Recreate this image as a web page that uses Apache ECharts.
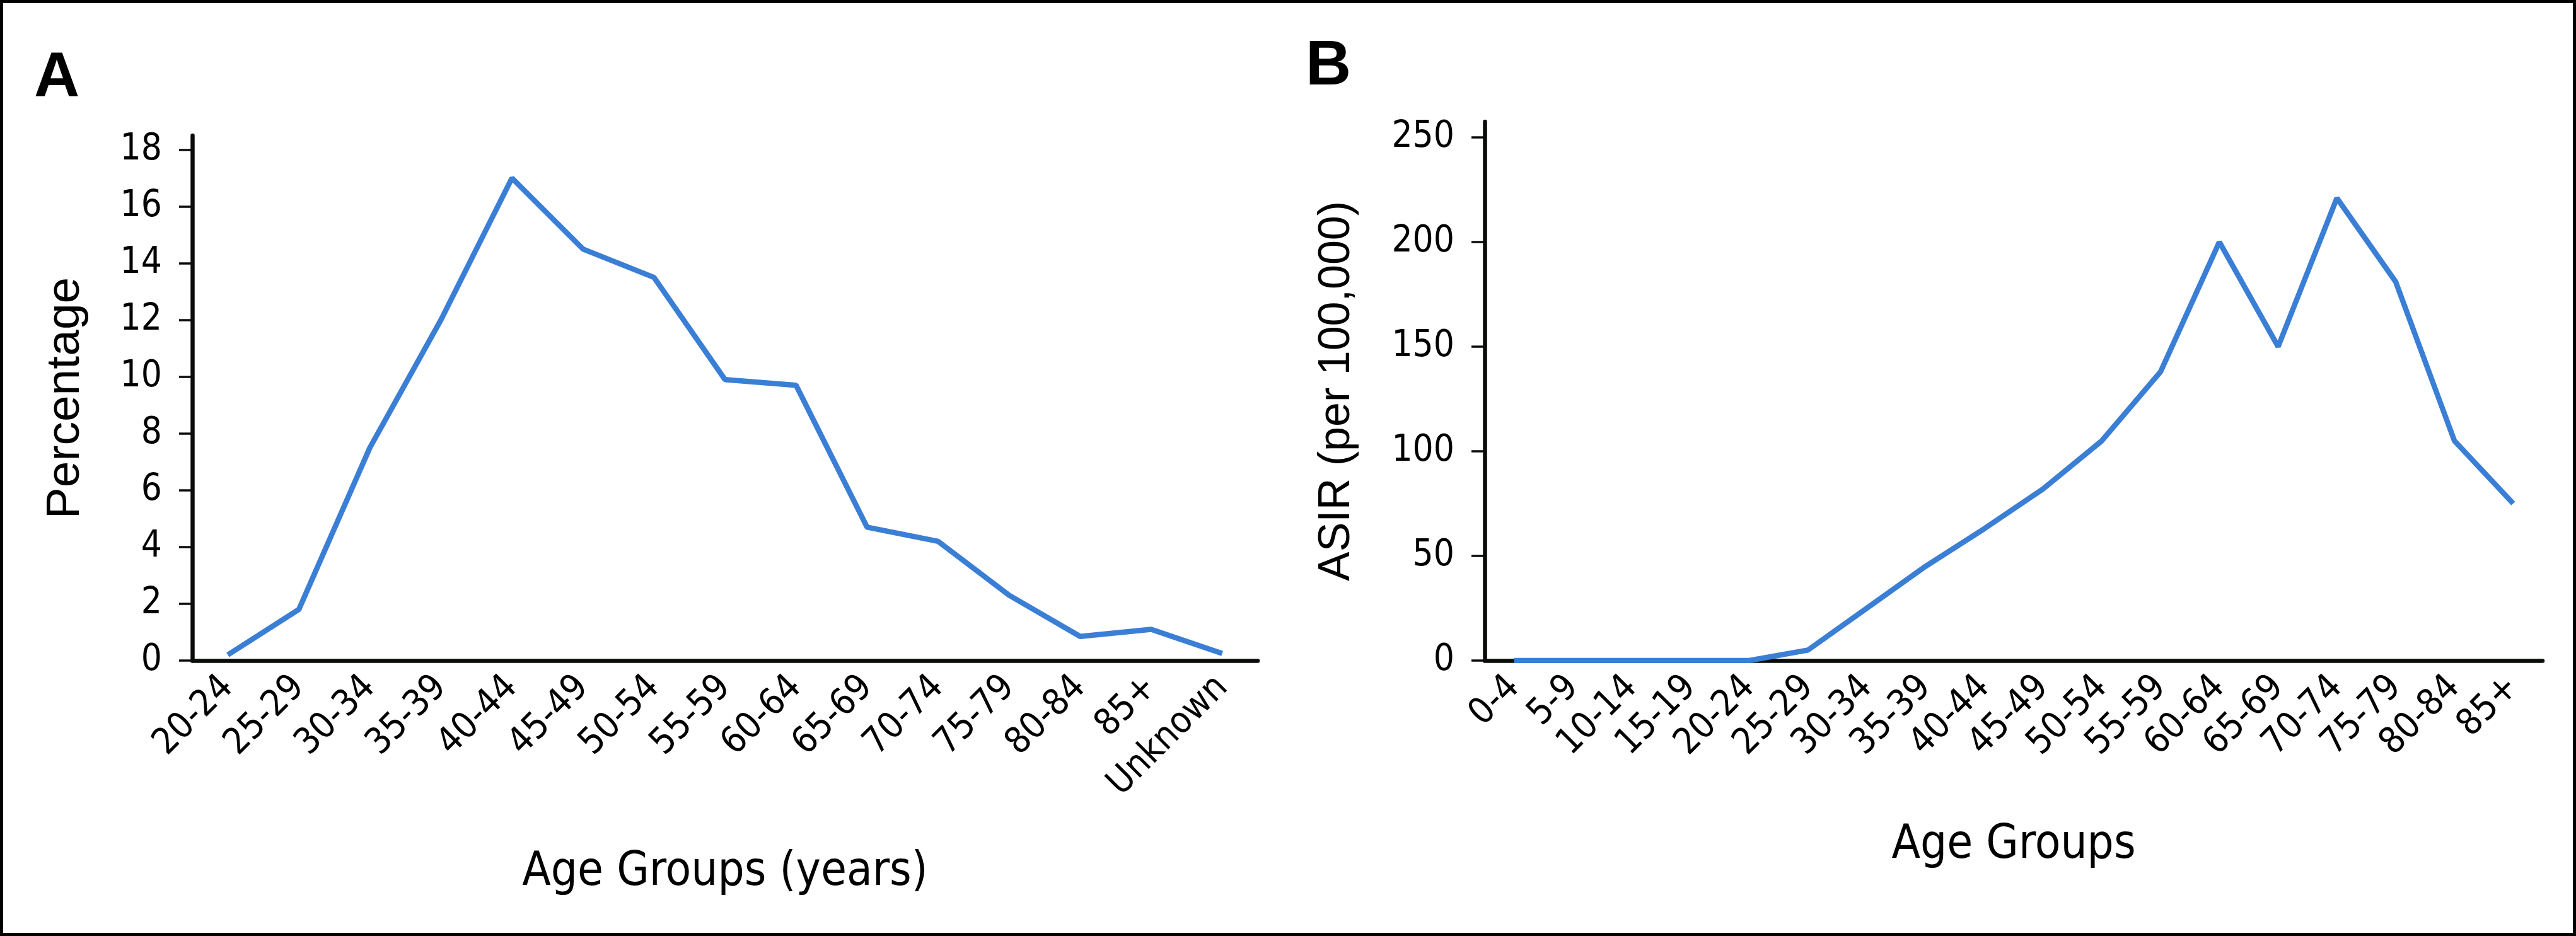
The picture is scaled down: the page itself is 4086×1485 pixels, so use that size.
<!DOCTYPE html>
<html><head><meta charset="utf-8">
<script src="https://cdn.jsdelivr.net/npm/echarts@6/dist/echarts.min.js"></script>
<style>html,body{margin:0;padding:0;background:#fff}#c{width:4086px;height:1485px}</style>
</head><body><div id="c"></div>
<script>
// Panel A: percentage by age group
const categoriesA = ['20-24','25-29','30-34','35-39','40-44','45-49','50-54','55-59','60-64','65-69','70-74','75-79','80-84','85+','Unknown'];
const percentageA = [0.2, 1.8, 7.5, 12.0, 17.0, 14.5, 13.5, 9.9, 9.7, 4.7, 4.2, 2.3, 0.85, 1.1, 0.25];
const yTicksA = [0, 2, 4, 6, 8, 10, 12, 14, 16, 18];
// Panel B: ASIR per 100,000 by age group
const categoriesB = ['0-4','5-9','10-14','15-19','20-24','25-29','30-34','35-39','40-44','45-49','50-54','55-59','60-64','65-69','70-74','75-79','80-84','85+'];
const asirB = [0, 0, 0, 0, 0, 5, 25, 45, 63, 82, 105, 138, 200, 150, 221, 181, 105, 75];
const yTicksB = [0, 50, 100, 150, 200, 250];

const narrow = "'Liberation Sans Narrow','DejaVu Sans Condensed',sans-serif";
const regular = "'Liberation Sans',Arial,sans-serif";
const blue = '#3a7fd5';
const ink = '#0a0c0a';

function xAxisFor(grid, data, name, gap) {
  return {
    type: 'category', gridIndex: grid, data: data, boundaryGap: true,
    axisLine: { show: true, onZero: false, lineStyle: { color: ink, width: 6.5 } },
    axisTick: { show: false },
    splitLine: { show: false },
    axisLabel: { interval: 0, rotate: 45, fontSize: 58, fontFamily: narrow, color: '#000', margin: 34 },
    name: name, nameLocation: 'middle', nameGap: gap,
    nameTextStyle: { fontSize: 74, fontFamily: narrow, color: '#000' }
  };
}
function yAxisFor(grid, max, ticks, name, gap, nameSize) {
  return {
    type: 'value', gridIndex: grid, min: 0, max: max,
    axisLine: { show: true, onZero: false, lineStyle: { color: ink, width: 6.5 } },
    axisTick: { show: true, length: 21, lineStyle: { color: ink, width: 3.5 }, customValues: ticks },
    splitLine: { show: false },
    axisLabel: { fontSize: 58, fontFamily: narrow, color: '#000', margin: 48, customValues: ticks },
    name: name, nameLocation: 'middle', nameGap: gap,
    nameTextStyle: { fontSize: nameSize, fontFamily: regular, color: '#000' }
  };
}

const chart = echarts.init(document.getElementById('c'), null, { renderer: 'canvas' });
chart.setOption({
  animation: false,
  backgroundColor: '#fff',
  grid: [
    { left: 305, top: 215, width: 1690, height: 833 },
    { left: 2355, top: 193, width: 1678, height: 855 }
  ],
  xAxis: [
    xAxisFor(0, categoriesA, 'Age Groups (years)', 300),
    xAxisFor(1, categoriesB, 'Age Groups', 257)
  ],
  yAxis: [
    yAxisFor(0, 18.5, yTicksA, 'Percentage', 163, 75),
    yAxisFor(1, 257.5, yTicksB, 'ASIR (per 100,000)', 199, 70)
  ],
  series: [
    { type: 'line', xAxisIndex: 0, yAxisIndex: 0, data: percentageA, showSymbol: false, symbol: 'none',
      lineStyle: { color: blue, width: 8.5 }, z: 5 },
    { type: 'line', xAxisIndex: 1, yAxisIndex: 1, data: asirB, showSymbol: false, symbol: 'none',
      lineStyle: { color: blue, width: 8.5 }, z: 5 }
  ],
  graphic: [
    { type: 'rect', silent: true, shape: { x: 2.5, y: 2.5, width: 4081, height: 1480 },
      style: { fill: 'none', stroke: '#000', lineWidth: 5 } },
    { type: 'text', silent: true, style: { text: 'A', x: 54, y: 125, font: "bold 100px 'Liberation Sans', Arial, sans-serif", fill: '#000', verticalAlign: 'middle', align: 'left' } },
    { type: 'text', silent: true, style: { text: 'B', x: 2071, y: 106, font: "bold 100px 'Liberation Sans', Arial, sans-serif", fill: '#000', verticalAlign: 'middle', align: 'left' } }
  ]
});
</script>
</body></html>
